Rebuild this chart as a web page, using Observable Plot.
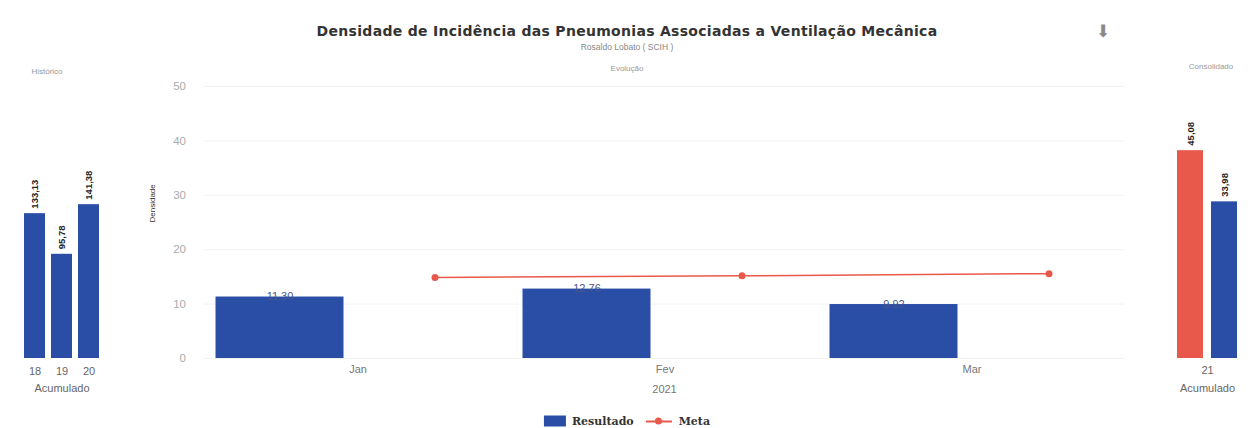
<!DOCTYPE html>
<html><head><meta charset="utf-8">
<script src="https://cdn.jsdelivr.net/npm/d3@7"></script>
<script src="https://cdn.jsdelivr.net/npm/@observablehq/plot@0.6"></script>
<style>
body{margin:0;background:#fff;font-family:"Liberation Sans",Arial,sans-serif;}
#wrap{position:relative;width:1252px;height:428px;overflow:hidden;background:#fff;}
.abs{position:absolute;white-space:nowrap;}
.c{transform:translate(-50%,-50%);}
#title{left:627px;top:31px;font-family:"DejaVu Sans",sans-serif;font-weight:bold;font-size:14px;letter-spacing:0.3px;color:#333;}
#sub{left:627px;top:47px;font-size:8.5px;color:#888;}
.ptitle{font-size:8px;color:#999;}
#arrow{left:1103px;top:31px;font-family:"DejaVu Sans",sans-serif;font-size:17px;color:#8a8a8a;}
#legend{left:627px;top:421px;display:flex;align-items:center;font-family:"DejaVu Serif","Liberation Serif",serif;font-weight:bold;font-size:11px;color:#333;}
.sw{display:inline-block;width:22px;height:11px;margin-right:6px;}
.lsw{display:inline-block;position:relative;width:26px;height:11px;margin:0 7px 0 12px;}
.lsw .ln{position:absolute;left:0;right:0;top:5px;height:2px;}
.lsw .dt{position:absolute;left:9px;top:2px;width:7px;height:7px;border-radius:50%;}
#hist,#main,#cons{position:absolute;top:60px;}
#hist{left:0}#main{left:140px}#cons{left:1150px}
</style></head><body><div id="wrap">
<div id="title" class="abs c">Densidade de Incidência das Pneumonias Associadas a Ventilação Mecânica</div>
<div id="sub" class="abs c">Rosaldo Lobato ( SCIH )</div>
<div id="arrow" class="abs c">⬇</div>
<div class="abs c ptitle" style="left:47px;top:71px">Histórico</div>
<div class="abs c ptitle" style="left:627px;top:68px">Evolução</div>
<div class="abs c ptitle" style="left:1211px;top:66px">Consolidado</div>
<div id="hist"></div><div id="main"></div><div id="cons"></div>
<div id="legend" class="abs c"><span class="sw" id="swR"></span>Resultado<span class="lsw"><span class="ln" id="lnM"></span><span class="dt" id="dtM"></span></span>Meta</div>
</div>
<script>
// ---- data ----
const months = ["Jan", "Fev", "Mar"];
const resultado = [11.30, 12.76, 9.92];
const meta = [14.9, 15.2, 15.6];
const yTicks = [0, 10, 20, 30, 40, 50];
const xTitle = "2021";
const histYears = ["18", "19", "20"];
const histValues = [133.13, 95.78, 141.38];
const consSeries = ["Meta", "Resultado"];
const consValues = [45.08, 33.98];
const consYear = "21";

const BLUE = "#2a4ea6", RED = "#e8594b";
document.getElementById("swR").style.background = BLUE;
document.getElementById("lnM").style.background = RED;
document.getElementById("dtM").style.background = RED;

const comma = v => d3.format(".2f")(v).replace(".", ",");
const baseStyle = {background: "transparent", overflow: "visible", fontFamily: "'Liberation Sans', Arial, sans-serif"};

// ---- Histórico ----
const histData = histYears.map((y, i) => ({year: y, value: histValues[i]}));
document.getElementById("hist").append(Plot.plot({
  width: 140, height: 345,
  marginLeft: 18, marginRight: 35, marginTop: 26, marginBottom: 47,
  style: baseStyle,
  x: {domain: histYears, padding: 0.222, axis: null},
  y: {domain: [0, 250], axis: null},
  marks: [
    Plot.barY(histData, {x: "year", y: "value", fill: BLUE}),
    Plot.text(histData, {x: "year", y: "value", text: d => comma(d.value), rotate: -90, textAnchor: "start", dy: -5, fontWeight: "bold", fontSize: 9.5, fill: "#222"}),
    Plot.axisX({tickSize: 0, tickPadding: 9, fontSize: 11, fill: "#666", label: null}),
    Plot.text(["Acumulado"], {frameAnchor: "bottom", dy: 33, fontSize: 11, fill: "#666"})
  ]
}));

// ---- Evolução ----
const mainData = months.map((m, i) => ({month: m, resultado: resultado[i], meta: meta[i]}));
document.getElementById("main").append(Plot.plot({
  width: 1010, height: 345,
  marginLeft: 63.5, marginRight: 25.5, marginTop: 26, marginBottom: 47,
  style: baseStyle,
  x: {domain: months, padding: 0, axis: null},
  y: {domain: [0, 50], axis: null},
  marks: [
    Plot.gridY(yTicks, {stroke: "#f3f3f3", strokeOpacity: 1}),
    Plot.axisY({ticks: yTicks, tickSize: 0, tickPadding: 18, fontSize: 11.5, fill: "#aaa", label: null}),
    Plot.text(["Densidade"], {frameAnchor: "left", dx: -52, rotate: -90, fontSize: 8, fill: "#333"}),
    Plot.barY(mainData, {x: "month", y: "resultado", fill: BLUE, insetLeft: 11.5, insetRight: 167.5}),
    Plot.text(mainData, {x: "month", y: "resultado", text: d => d.resultado.toFixed(2), dx: -78, dy: 3, lineAnchor: "bottom", fontSize: 11, fill: "#4a5684"}),
    Plot.line(mainData, {x: "month", y: "meta", dx: 77, stroke: RED, strokeWidth: 1.5}),
    Plot.dot(mainData, {x: "month", y: "meta", dx: 77, r: 3.5, fill: RED}),
    Plot.axisX({tickSize: 0, tickPadding: 7, fontSize: 11, fill: "#777", label: null}),
    Plot.text([xTitle], {frameAnchor: "bottom", dy: 34, fontSize: 11, fill: "#777"})
  ]
}));

// ---- Consolidado ----
const consData = consSeries.map((s, i) => ({series: s, value: consValues[i]}));
document.getElementById("cons").append(Plot.plot({
  width: 102, height: 345,
  marginLeft: 19, marginRight: 7, marginTop: 26, marginBottom: 47,
  style: baseStyle,
  x: {domain: consSeries, padding: 0.235, axis: null},
  y: {domain: [0, 59], axis: null},
  color: {domain: consSeries, range: [RED, BLUE]},
  marks: [
    Plot.barY(consData, {x: "series", y: "value", fill: "series"}),
    Plot.text(consData, {x: "series", y: "value", text: d => comma(d.value), rotate: -90, textAnchor: "start", dy: -5, fontWeight: "bold", fontSize: 9.5, fill: "#222"}),
    Plot.text([consYear], {frameAnchor: "bottom", dy: 15, fontSize: 11, fill: "#666"}),
    Plot.text(["Acumulado"], {frameAnchor: "bottom", dy: 33, fontSize: 11, fill: "#666"})
  ]
}));
</script>
</body></html>
